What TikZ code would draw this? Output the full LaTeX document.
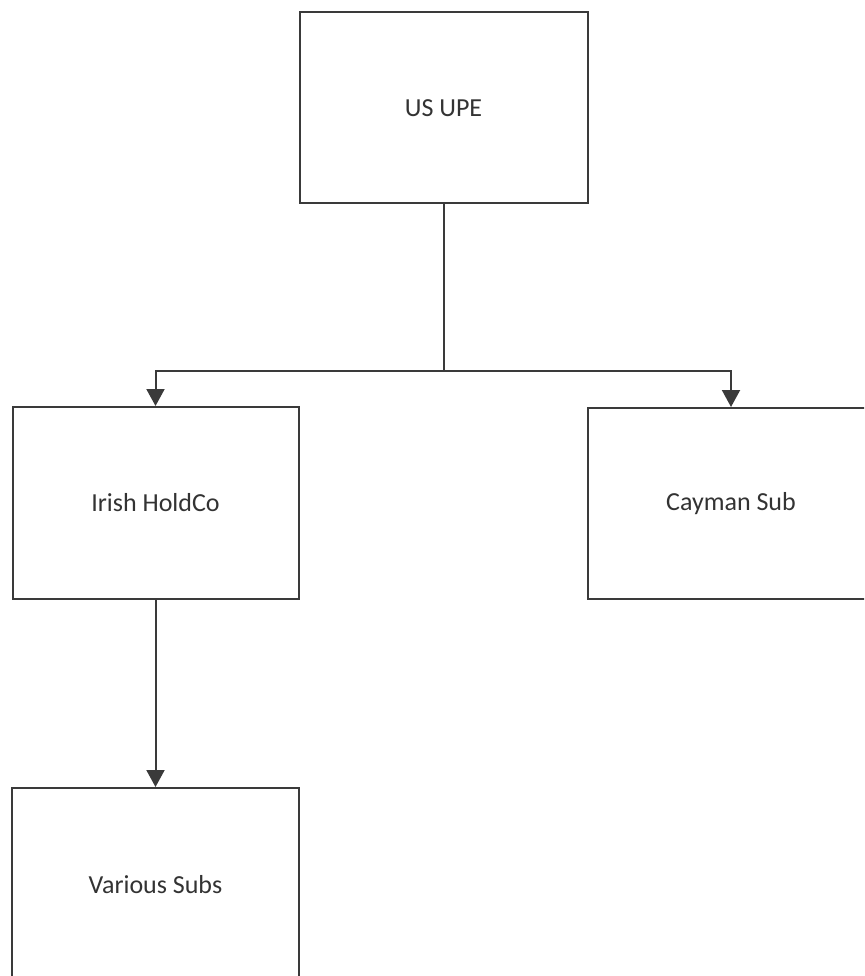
\documentclass[tikz,border=0pt]{standalone}
\usepackage{fontspec}
\setmainfont{Carlito}
\usetikzlibrary{arrows.meta}
\definecolor{ln}{HTML}{3A3A3A}
\definecolor{tx}{HTML}{333333}
\begin{document}
\begin{tikzpicture}[x=1pt,y=-1pt,
  box/.style={draw=ln,line width=2pt,fill=white,inner sep=0pt,font=\fontsize{26}{30}\selectfont,text=tx},
  conn/.style={draw=ln,line width=2pt},
  arr/.style={conn,-{Triangle[width=18pt,length=17pt]}}]
\useasboundingbox (0,0) rectangle (864,976);
\clip (0,0) rectangle (864,976);
\node[box,minimum width=288pt,minimum height=191pt] (upe) at (443.5,108) {US UPE};
\node[box,minimum width=286pt,minimum height=192pt] (irish) at (155.5,503) {Irish HoldCo};
\node[box,minimum width=286pt,minimum height=191pt] (cayman) at (731,503.5) {Cayman Sub};
\node[box,minimum width=287pt,minimum height=194pt] (various) at (155.5,885) {Various Subs};
\coordinate (j) at (443.5,371);
\draw[conn] (upe.south) -- (j);
\draw[arr] (j) -| (irish.north);
\draw[arr] (j) -| (cayman.north);
\draw[arr] (irish.south) -- (various.north);
\end{tikzpicture}
\end{document}
